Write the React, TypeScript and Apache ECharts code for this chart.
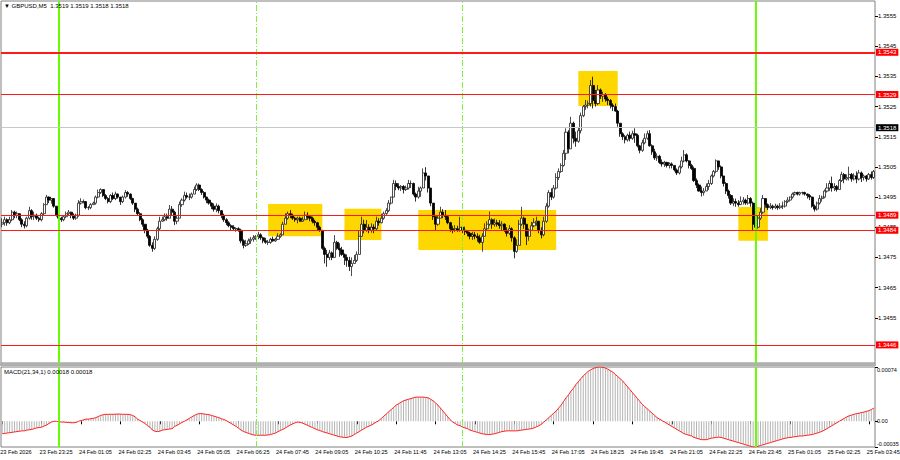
import React, { useEffect, useRef } from "react";
import * as echarts from "echarts";

// Prices are stored in pips above BASE (1.3400); MACD in units of 0.00001.
const BASE = 1.34;

const OPEN = [
  86,86.5,87.5,86.5,87.5,90,89,89.5,87.5,86,
  85.5,88,90.5,88.5,89,88,87.5,89.5,92.5,95,
  94,94.5,92,89,88,87.5,88.5,89.5,90,89,
  88,89,93,93.5,93.5,91.5,91.5,92.5,93,95,
  96.5,97.5,95.5,94.5,93.5,95.5,94.5,96,95,93.5,
  95,96.5,96,94.5,93,91,89.5,87.5,86,84,
  82,79,78,81,84.5,87,87.5,88.5,88,91,
  90,87,88,92.5,94,95.5,95,95,96,97.5,
  99,97.5,96.5,95,94,93,92,91,92,90.5,
  89,87.5,86.5,85.5,85,84.5,84.5,84,80.5,79,
  79.5,80.5,81,81.5,82,82.5,81.5,80.5,80,80,
  81,80.5,81,82,82.5,86,88,89.5,89,88,
  87.5,88,87,87.5,89,88.5,88,87,86.5,85,
  84,78,76,75,76.5,75,80,78,77.5,76,
  75,74,72,73,74,76,82,86,84,85,
  84,85,84.5,87,86.5,88,89.5,90.5,93,95,
  99.5,98.5,98,98.5,97.5,98,99.5,99.5,96,95,
  97,98,103,102,98,93,88.5,86,88,90,
  89,88.5,86.5,84.5,84,84.5,84,85,84,83.5,
  83,82,82.5,82,81.5,80,82,84.5,86,87.5,
  86,86.5,86,85.5,86,84,83,84.5,81.5,77,
  79,86,88,86,82,84,85.5,86.5,87,84,
  82.5,87,92,96.5,95,98,101.5,103.5,105.5,109.5,
  116.5,111,119.5,114.5,113.5,117,122,125,125.5,126,
  132,127,126,130.5,128.5,129,127.5,127,125.5,125,
  123.5,119.5,116,115,114,115.5,114.5,116,115.5,112,
  110.5,113,114.5,116,112,110,108,108.5,106.5,106,
  106.5,105.5,106,105.5,104,103,105,107,109,107,
  105.5,104.5,100.5,99,97,96.5,97,98.5,99.5,102,
  103.5,107,105,102,99.5,97,95.5,93,93.5,93,
  92.5,93.5,94,93,94.5,93,86,85,88,90,
  94.5,92.5,91.5,92,91.5,92,91.5,92,92,93.5,
  94,95,96,96.5,96,96.5,96.5,96,95.5,95,
  92,91,93,94.5,95,97,98,99.5,98,98.5,
  97.5,100.5,102.5,101,101.5,102.5,101,102,101,103,
  101.5,102,101,102.5,101.5,
];

const HIGH = [
  88,88.5,88,88.5,90.7,90.5,90.2,89.5,88,87,
  88.5,91.8,91,90.2,89.5,88.5,90,93,95.7,95.2,
  94.6,94,92,89,88.5,89,90.2,90.7,90.2,89.6,
  89.5,94,94.6,94.2,93.5,92,93,93.5,95.5,97.5,
  97.9,97.5,96,95,96,96.5,96.8,96.2,95,95.5,
  97.3,97,96.2,94.8,93,91.5,90,88,86,84.5,
  82.4,80,82,85.2,88.5,88.5,89.6,89.5,92.4,92,
  90.5,89,93.5,94.6,96.8,96.5,96.2,96.5,98.5,99.6,
  99.5,97.9,97,95.1,94.5,93.2,92.9,92.9,92.5,90.7,
  89.5,88,87,86,85.7,85,85,84.5,81,80.8,
  81.3,81.8,82.4,82.4,83.5,83,81.9,81.5,80.8,81.5,
  81.9,81.5,83,83,86.8,89.6,90.2,90.7,89.5,88.5,
  88.5,88.5,88.5,90.2,90,89,88.5,87.5,86.8,85.5,
  84,78.6,77.5,77.5,77,82.4,80.5,79.7,78.5,76.3,
  76,75.2,75,75.8,77,84.1,88.5,87.5,87.4,86,
  86.3,86,88.5,88,89.5,90.2,91.3,94,95.1,100.7,
  100.5,99.6,99,99,98.8,100.7,100.5,99.8,96.5,98.4,
  98.5,104.5,104.9,102,98,93,88.5,89,91.8,91,
  90.7,89,86.8,85.5,85.7,85.5,88.5,85.5,85.2,84.1,
  83.5,83.5,83.5,83,82.5,83,86.3,87,90.2,88,
  87.9,87.5,87.4,87,86.3,85,85.7,85,82,81,
  87.4,91.8,88.5,86,84.6,86.8,88,88.5,87,85,
  88.5,93,97.3,97.9,99,102.9,104.5,106.2,110.6,117.8,
  117.2,121.6,120,116.7,118,123,125.5,127.2,127,133.8,
  134.9,130.5,132.1,131,129.9,129.5,128.3,127.5,126.1,126,
  123.9,119.4,116.5,115.6,116,116.7,117,117.8,116,112.3,
  114,116.1,117,117.2,112.5,111,109.5,109,107.5,107,
  106.7,106.5,106.5,105.5,104.5,105.5,108.4,110.6,109.5,107.3,
  106,105.1,101.2,99.5,98.5,98,99.5,100.7,102.5,104,
  107.5,107,105.5,102,100,97.5,96,94.6,94.5,94,
  95.2,95,94.5,95.7,95,93.5,88,89,91.3,95.7,
  94.5,92.9,93,92.5,92.8,92.5,93,93.5,94,95,
  95.2,96.5,96.8,96.8,96.8,96.8,96.8,96.2,96,95.2,
  92.5,93.5,95.7,95.5,97.5,99.6,100.5,101.8,99.6,99,
  101,103.4,103,102.5,105.1,103,102.9,103.5,104,103.5,
  102.5,102.3,103,103.5,104,
];

const LOW = [
  85,85.5,85.5,86,87,88,88,87,85,84.6,
  85,87.5,87.5,87.4,87.4,86.8,87,89,92.5,93,
  92.8,91.5,88.5,86.8,86.8,87,88,88.8,88,87.4,
  87.5,88.5,92.5,92.9,91,90.7,91,92.4,92.5,94.6,
  96,95,94,92.9,93,94,94,94.5,92.4,93,
  94.5,95.1,94,92.4,90,89,87,85.2,83,81.3,
  78.5,76.9,77.5,80.5,84,86.8,87,87.2,88,89,
  85.7,86,88,91.8,93.5,94.5,94,94.5,96,97,
  97,95.7,94.5,93,92.5,91,90.2,90,89.6,88,
  86.8,85.7,85,84,83.8,83.5,83.5,79.7,78,78.5,
  79.1,79.5,80.2,80.8,81,80.8,79.7,79.5,79.1,79.5,
  80.2,80.2,80.8,81.5,82.5,86,87.5,88,87.4,86.8,
  86.3,86.8,86.8,87.4,87.5,87,86.3,85.5,84,83.5,
  77.5,73,71.9,74.1,74.1,75,77.5,75.2,75.5,72.5,
  71.9,70.5,68.8,73,73.5,76,81.9,83,83.5,83,
  83.2,83,84,85.5,86.3,87.5,89.1,90,92.5,95,
  97.3,97.3,97,96.2,97,97.5,98,95.5,93.5,94.5,
  95.1,98,100.5,96.5,92,87.4,84.1,85.5,88,88,
  87.4,86,83.5,83,83.5,83.5,83.5,83,82.4,82,
  81,80.8,81,80.2,79.5,76.9,82,84,85.5,84.5,
  85.2,85.2,84.5,84.1,83.5,81.9,82.5,80.2,74.7,76.5,
  79,85.5,84.5,79.1,80.5,83.8,85,85.5,83,81.3,
  82,86.5,91.5,94,94.5,97.5,100.7,103,105.1,107.3,
  109.5,111,112.8,111.7,113,116.1,121.5,123.9,124.4,125,
  124.4,125,125.5,127.5,126.6,126.6,125.5,124.4,123.5,123.3,
  118.3,115,113.9,112.8,113.4,113.5,114,113,111.5,109.5,
  110,112.5,114,111.7,109,107.3,107,106,105.1,105,
  104.8,104.5,104.5,103.5,102.3,102.5,104.5,106.5,106.5,104.5,
  104,100,98,96.8,95.2,95.5,97,97.4,99,101.5,
  102.9,104,101.2,98.5,96,94.5,92.4,92,91.8,91.8,
  92.4,92.5,92.4,92.5,91.8,84.1,84.1,84.5,87.4,89.5,
  91.5,90.7,91,90.8,91,90.8,91,91,91.5,93,
  93.5,94.5,95.5,95.5,95.5,95.8,95.5,94.5,94,91.5,
  90.2,90.5,92.5,93.5,94.6,96.5,97,96.8,97,96.8,
  97.5,100,99.6,100.5,100.5,100.1,100.5,99.6,100.5,100,
  100.5,100.1,100.7,100.8,101,
];

const CLOSE = [
  86.5,87.5,86.5,87.5,90,89,89.5,87.5,86,85.5,
  88,90.5,88.5,89,88,87.5,89.5,92.5,95,94,
  94.5,92,89,88,87.5,88.5,89.5,90,89,88,
  89,93,93.5,93.5,91.5,91.5,92.5,93,95,96.5,
  97.5,95.5,94.5,93.5,95.5,94.5,96,95,93.5,95,
  96.5,96,94.5,93,91,89.5,87.5,86,84,82,
  79,78,81,84.5,87,87.5,88.5,88,91,90,
  87,88,92.5,94,95.5,95,95,96,97.5,99,
  97.5,96.5,95,94,93,92,91,92,90.5,89,
  87.5,86.5,85.5,85,84.5,84.5,84,80.5,79,79.5,
  80.5,81,81.5,82,82.5,81.5,80.5,80,80,81,
  80.5,81,82,82.5,86,88,89.5,89,88,87.5,
  88,87,87.5,89,88.5,88,87,86.5,85,84,
  78,76,75,76.5,75,80,78,77.5,76,75,
  74,72,73,74,76,82,86,84,85,84,
  85,84.5,87,86.5,88,89.5,90.5,93,95,99.5,
  98.5,98,98.5,97.5,98,99.5,99.5,96,95,97,
  98,103,102,98,93,88.5,86,88,90,89,
  88.5,86.5,84.5,84,84.5,84,85,84,83.5,83,
  82,82.5,82,81.5,80,82,84.5,86,87.5,86,
  86.5,86,85.5,86,84,83,84.5,81.5,77,79,
  86,88,86,82,84,85.5,86.5,87,84,82.5,
  87,92,96.5,95,98,101.5,103.5,105.5,109.5,116.5,
  111,119.5,114.5,113.5,117,122,125,125.5,126,132,
  127,126,130.5,128.5,129,127.5,127,125.5,125,123.5,
  119.5,116,115,114,115.5,114.5,116,115.5,112,110.5,
  113,114.5,116,112,110,108,108.5,106.5,106,106.5,
  105.5,106,105.5,104,103,105,107,109,107,105.5,
  104.5,100.5,99,97,96.5,97,98.5,99.5,102,103.5,
  107,105,102,99.5,97,95.5,93,93.5,93,92.5,
  93.5,94,93,94.5,93,86,85,88,90,94.5,
  92.5,91.5,92,91.5,92,91.5,92,92,93.5,94,
  95,96,96.5,96,96.5,96.5,96,95.5,95,92,
  91,93,94.5,95,97,98,99.5,98,98.5,97.5,
  100.5,102.5,101,101.5,102.5,101,102,101,103,101.5,
  102,101,102.5,101.5,103.5,
];

const MACD = [
  -17,-16.5,-16,-15.5,-15,-14.5,-14,-13.5,-13,-13,
  -12,-11.5,-11,-10,-9,-8.5,-8,-6.5,-5,-3,
  -1,0,0,-0.5,-1,-1,-1.5,-1.5,-2,-2,
  -1.5,0,1,2,3,3,3.5,4,5,6.5,
  8,9,9.5,9.5,9.5,9.5,9.8,9.8,9.8,9.6,
  9.5,9.5,9,8,6,3,1,-1,-3,-6,
  -8,-12,-13.5,-14,-13.5,-12,-11.5,-11,-10.5,-10,
  -7,-5.5,-3.5,-1.5,0,2,4,6,8,9.5,
  10.5,10.5,10,9.5,9,8,7,6,5,3.5,
  2.5,1,-1,-3,-5,-7,-9.5,-12,-14,-15,
  -16.5,-17.5,-18.5,-19,-19,-19,-19,-19,-18.5,-18,
  -17,-16,-14,-12.5,-11,-9,-7,-5,-3.5,-2,
  -1,-1.5,-2.5,-4,-5.5,-7,-8.5,-10,-11.5,-12.5,
  -14,-15,-16,-17,-18,-19,-20,-21,-21.5,-22,
  -22,-21,-20,-18,-16,-14,-12,-10,-8,-6.5,
  -5,-3,-1,1,4,7,10,13,16,19,
  22,24,26,28,29,30,31,32,33,33,
  33,33,32.5,32,30,28,25,22,18,14,
  10,6,2,-1,-3,-5,-6,-8,-9,-10,
  -12,-13,-14,-15,-16,-17,-17.5,-18,-18,-17.5,
  -17,-16,-15,-14,-13.5,-13,-13,-13,-13,-13,
  -12.5,-12,-11.5,-11,-10.5,-10,-9,-7.5,-6,-4,
  -1,2,5,8,11,14,18,22,27,32,
  36,41,45,50,54,58,62,65,68,70,
  72,73,74,74,73.5,72.5,71,69,67,64,
  61,58,55,51,47,43,39,35,31,27,
  23,20,17,14,11,8,5,3,1,-1,
  -3,-5,-7,-9,-11,-13,-15,-17,-18,-19,
  -20,-22,-23,-24,-25,-25,-25,-24,-23,-22.5,
  -22,-21.5,-22,-23,-24,-25,-26,-27,-28,-29,
  -30,-31,-32,-33,-34,-35,-35,-34,-33,-32,
  -31,-30,-29,-28,-27,-26,-25,-24,-23,-22.5,
  -22,-21.5,-21,-20.5,-20,-20,-19.5,-19,-18.5,-18,
  -17,-16,-15,-13.5,-12,-10,-8,-6,-4,-2,
  0,2,4,6,7.5,8.5,9.5,10.5,11,12,
  12.5,13.5,14.5,16,18,
];

const TICK_LABELS = [
  "23 Feb 2026", "23 Feb 23:25", "24 Feb 01:05", "24 Feb 02:25", "24 Feb 03:45",
  "24 Feb 05:05", "24 Feb 06:25", "24 Feb 07:45", "24 Feb 09:05", "24 Feb 10:25",
  "24 Feb 11:45", "24 Feb 13:05", "24 Feb 14:25", "24 Feb 15:45", "24 Feb 17:05",
  "24 Feb 18:25", "24 Feb 19:45", "24 Feb 21:05", "24 Feb 22:25", "24 Feb 23:45",
  "25 Feb 01:05", "25 Feb 02:25", "25 Feb 03:45",
];
const BARS_PER_LABEL = 16;

const PRICE_TICKS = [1.3455, 1.3465, 1.3475, 1.3485, 1.3495, 1.3505, 1.3515, 1.3525, 1.3535, 1.3545, 1.3555];
const MACD_TICKS = [-0.00035, 0, 0.00074];
const RED_LEVELS = [1.3543, 1.3529, 1.3489, 1.3484, 1.3446];
const BID_LEVEL = 1.3518;
const DAY_LINES = [23, 306];
const SESSION_LINES = [103, 187];
// [fromBar, toBar, topPrice, bottomPrice]
const ZONES = [
  [108, 130, 1.34927, 1.3482],
  [139, 154, 1.34911, 1.34808],
  [169, 225, 1.34907, 1.34775],
  [234, 250, 1.35368, 1.35252],
  [299, 311, 1.34917, 1.34805],
];
const TITLE = "▼ GBPUSD,M5  1.3519 1.3519 1.3518 1.3518";
const MACD_TITLE = "MACD(21,34,1) 0.00018 0.00018";

const FONT = "'Liberation Sans', 'DejaVu Sans', sans-serif";
const FS = 6;

export default function App() {
  const ref = useRef<HTMLDivElement>(null);
  useEffect(() => {
    if (!ref.current) return;
    const chart = echarts.init(ref.current, undefined, { renderer: "svg" });
    const cats = CLOSE.map((_, i) => String(i));
    const toP = (v: number) => +(BASE + v / 10000).toFixed(5);
    const candles = CLOSE.map((c, i) => [toP(OPEN[i]), toP(c), toP(LOW[i]), toP(HIGH[i])]);
    const macd = MACD.map((v) => +(v / 100000).toFixed(6));

    const vLines = [
      ...DAY_LINES.map((i) => ({ xAxis: cats[i], lineStyle: { color: "#66ff00", width: 2, type: "solid" } })),
      ...SESSION_LINES.map((i) => ({ xAxis: cats[i], lineStyle: { color: "#80f040", width: 1, type: [6, 2, 1, 2] } })),
    ];

    const levelLabel = (v: number, bg: string) => ({
      show: true, position: "end", formatter: v.toFixed(4), color: "#ffffff",
      backgroundColor: bg, padding: [1, 2, 0, 2], fontSize: FS, fontFamily: FONT, distance: 1,
    });

    const hLines = [
      ...RED_LEVELS.map((v, k) => ({
        yAxis: v,
        lineStyle: { color: "#ff1a1a", width: k === 0 ? 1.8 : 1, type: "solid", opacity: 1 },
        label: levelLabel(v, "#ff0000"),
      })),
      {
        yAxis: BID_LEVEL,
        lineStyle: { color: "#c8c8c8", width: 1, type: "solid", opacity: 1 },
        label: levelLabel(BID_LEVEL, "#000000"),
      },
    ];

    const option: any = {
      animation: false,
      backgroundColor: "#ffffff",
      textStyle: { fontFamily: FONT },
      grid: [
        { left: 1, top: 1, width: 874, height: 362, show: true, borderColor: "#808080", borderWidth: 1, containLabel: false, outerBoundsMode: "none" },
        { left: 1, top: 367, width: 874, height: 80, show: true, borderColor: "#808080", borderWidth: 1, containLabel: false, outerBoundsMode: "none" },
      ],
      xAxis: [
        {
          type: "category", gridIndex: 0, data: cats, boundaryGap: true,
          axisLine: { show: false }, axisTick: { show: false }, axisLabel: { show: false }, splitLine: { show: false },
        },
        {
          type: "category", gridIndex: 1, data: cats, boundaryGap: true,
          axisLine: { show: false },
          axisTick: { show: true, interval: BARS_PER_LABEL - 1, alignWithLabel: true, length: 3, lineStyle: { color: "#000" } },
          axisLabel: {
            interval: BARS_PER_LABEL - 1, align: "left", fontSize: 5.6, color: "#000", margin: 2, fontFamily: FONT,
            padding: [0, 0, 0, -2],
            formatter: (_v: string, idx: number) => TICK_LABELS[Math.round(idx / BARS_PER_LABEL)] ?? "",
          },
          splitLine: { show: false },
        },
      ],
      yAxis: [
        {
          type: "value", gridIndex: 0, position: "right", min: 1.344, max: 1.356,
          axisLine: { show: false }, splitLine: { show: false },
          axisTick: { show: true, customValues: PRICE_TICKS, length: 3, lineStyle: { color: "#000" } },
          axisLabel: { customValues: PRICE_TICKS, formatter: (v: number) => v.toFixed(4), fontSize: FS, color: "#000", margin: 3, fontFamily: FONT },
        },
        {
          type: "value", gridIndex: 1, position: "right", min: -0.00035, max: 0.00074,
          axisLine: { show: false }, splitLine: { show: false },
          axisTick: { show: true, customValues: MACD_TICKS, length: 3, lineStyle: { color: "#000" } },
          axisLabel: {
            customValues: MACD_TICKS, fontSize: 5.5, color: "#000", margin: 2, fontFamily: FONT,
            verticalAlignMinLabel: "bottom", verticalAlignMaxLabel: "top",
            formatter: (v: number) => (Math.abs(v) < 1e-9 ? "0.00" : v.toFixed(5)),
          },
        },
      ],
      graphic: [
        { type: "rect", shape: { x: 0, y: 363, width: 876, height: 3 }, style: { fill: "#b0b0b0" }, silent: true },
        { type: "text", x: 4, y: 3, style: { text: TITLE, fontSize: FS, fill: "#000", font: `${FS}px ${FONT}` }, z: 100 },
        { type: "text", x: 4, y: 369, style: { text: MACD_TITLE, fontSize: FS, fill: "#000", font: `${FS}px ${FONT}` }, z: 100 },
      ],
      series: [
        {
          type: "line", xAxisIndex: 0, yAxisIndex: 0, data: [], z: 1, silent: true,
          markArea: {
            silent: true,
            itemStyle: { color: "#ffd700" },
            data: ZONES.map((zn) => [
              { xAxis: cats[zn[0]], yAxis: zn[2] },
              { xAxis: cats[zn[1]], yAxis: zn[3] },
            ]),
          },
        },
        {
          type: "line", xAxisIndex: 0, yAxisIndex: 0, data: [], z: 2, silent: true,
          markLine: { silent: true, symbol: ["none", "none"], label: { show: false }, data: vLines },
        },
        {
          type: "candlestick", xAxisIndex: 0, yAxisIndex: 0, data: candles, z: 3, barWidth: 2.6,
          itemStyle: { color: "#ffffff", color0: "#000000", borderColor: "#202020", borderColor0: "#000000", borderWidth: 0.8 },
          markLine: { silent: true, symbol: ["none", "none"], precision: 5, data: hLines },
        },
        {
          type: "bar", xAxisIndex: 1, yAxisIndex: 1, data: macd, barWidth: 1, z: 2, silent: true,
          itemStyle: { color: "#b4b4b4" },
          markLine: { silent: true, symbol: ["none", "none"], label: { show: false }, data: vLines },
        },
        {
          type: "line", xAxisIndex: 1, yAxisIndex: 1, data: macd, z: 3, silent: true,
          showSymbol: false, symbol: "none", lineStyle: { color: "#ff2020", width: 1 },
        },
      ],
    };
    chart.setOption(option);
    return () => chart.dispose();
  }, []);
  return <div ref={ref} style={{ position: "absolute", left: 0, top: 0, width: 900, height: 460 }} />;
}
